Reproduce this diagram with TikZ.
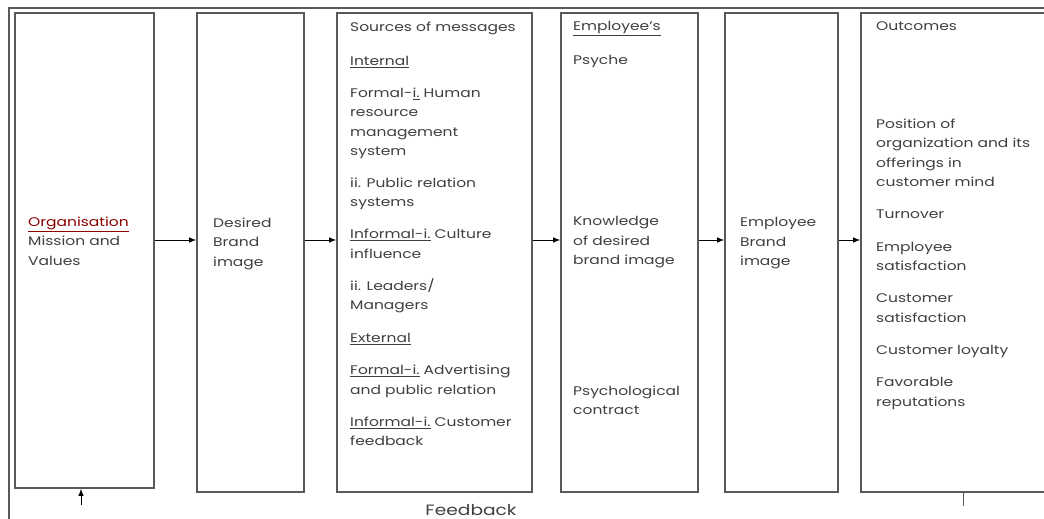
\documentclass[tikz,border=0pt]{standalone}
\usepackage{fontspec}
\setmainfont[FakeStretch=1.24]{Poppins}
\usetikzlibrary{arrows.meta}
\definecolor{txt}{gray}{0.25}
\definecolor{frame}{gray}{0.35}
\begin{document}
\begin{tikzpicture}[x=1pt,y=-1pt,
  box/.style={draw=frame,line width=1.6pt,inner sep=0pt},
  tx/.style={anchor=north west,inner sep=0pt,align=left,text=txt,font=\fontsize{12.5}{19.5}\selectfont},
  arr/.style={draw=black,line width=0.9pt,-{Latex[length=7pt,width=5.5pt]}},
  fbline/.style={draw=frame,line width=1.3pt}]
\useasboundingbox (0,0) rectangle (1044,519);
\clip (0,0) rectangle (1044,519);
\fill[white] (0,0) rectangle (1044,519);
% outer frame
\coordinate (tl) at (9,8);
\coordinate (tr) at (1060,8);
\coordinate (bl) at (9,530);
\draw[fbline] (tr) -- (tl) -- (bl);
% boxes
\node[box,minimum width=139,minimum height=475] (b1) at (84.5,250.5) {};
\node[box,minimum width=107,minimum height=479] (b2) at (250.5,252.5) {};
\node[box,minimum width=195,minimum height=479] (b3) at (434.5,252.5) {};
\node[box,minimum width=137,minimum height=479] (b4) at (629.5,252.5) {};
\node[box,minimum width=113,minimum height=479] (b5) at (781.5,252.5) {};
\node[box,minimum width=199,minimum height=479] (b6) at (960.5,252.5) {};
% arrows
\coordinate (ay) at (0,240);
\draw[arr] (b1.east |- ay) -- (b2.west |- ay);
\draw[arr] (b2.east |- ay) -- (b3.west |- ay);
\draw[arr] (b3.east |- ay) -- (b4.west |- ay);
\draw[arr] (b4.east |- ay) -- (b5.west |- ay);
\draw[arr] (b5.east |- ay) -- (b6.west |- ay);
% feedback marks
\coordinate (fbl) at (81,505);
\draw[arr] (fbl) -- (fbl |- b1.south);
\coordinate (fbr) at (963,506);
\draw[fbline,line width=1pt] (b6.south -| fbr) -- (fbr);
\node[text=txt,font=\fontsize{15}{15}\selectfont,inner sep=0pt,anchor=base] (fb) at (471,515.5) {Feedback};
% texts
\node[tx] (t1) at (28,216.5) {\textcolor{red!55!black}{\underline{Organisation}}\\Mission and\\Values};
\node[tx] (t2) at (213,217.5) {Desired\\Brand\\image};
\node[tx] (t3) at (350,21.5) {Sources of messages\\[15pt]\underline{Internal}\\[12pt]Formal-\underline{i.} Human\\resource\\management\\system\\[12pt]ii. Public relation\\systems\\[12.5pt]\underline{Informal-i.} Culture\\influence\\[12.5pt]ii. Leaders/\\Managers\\[13pt]\underline{External}\\[13pt]\underline{Formal-i.} Advertising\\and public relation\\[12.5pt]\underline{Informal-i.} Customer\\feedback};
\node[tx] (t4a) at (573,21.5) {\underline{Employee's}\\[14.5pt]Psyche};
\node[tx] (t4b) at (573,216.5) {Knowledge\\of desired\\brand image};
\node[tx] (t4c) at (573,385.5) {Psychological\\contract};
\node[tx] (t5) at (740,217.5) {Employee\\Brand\\image};
\node[tx] (t6a) at (876,21.5) {Outcomes};
\node[tx] (t6b) at (876,118.5) {Position of\\organization and its\\offerings in\\customer mind\\[12.5pt]Turnover\\[13pt]Employee\\satisfaction\\[12.5pt]Customer\\satisfaction\\[12.5pt]Customer loyalty\\[13pt]Favorable\\reputations};
\end{tikzpicture}
\end{document}
